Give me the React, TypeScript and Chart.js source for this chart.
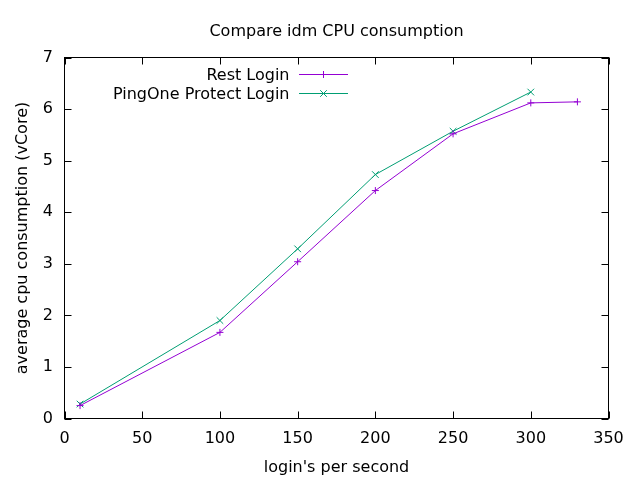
import React, { useEffect, useRef } from "react";
import { Chart, registerables } from "chart.js";

Chart.register(...registerables);

const restX = [10, 100, 150, 200, 250, 300, 330];
const restY = [0.25, 1.67, 3.04, 4.42, 5.52, 6.12, 6.14];
const pingX = [10, 100, 150, 200, 250, 300];
const pingY = [0.28, 1.9, 3.29, 4.73, 5.57, 6.33];

const seriesLabels = ["Rest Login", "PingOne Protect Login"];
const titleText = "Compare idm CPU consumption";
const xTitle = "login's per second";
const yTitle = "average cpu consumption (vCore)";

const FONT = "DejaVu Sans";
const PURPLE = "#9400d3";
const GREEN = "#009e73";

const decorPlugin = {
  id: "decor",
  afterDraw(chart: any) {
    const ctx = chart.ctx as CanvasRenderingContext2D;
    const a = chart.chartArea;
    const xs = chart.scales.x;
    const ys = chart.scales.y;
    ctx.save();
    // border
    ctx.strokeStyle = "#000";
    ctx.lineWidth = 1;
    ctx.strokeRect(a.left, a.top, a.right - a.left, a.bottom - a.top);
    const tl = 7;
    ctx.beginPath();
    xs.ticks.forEach((t: any) => {
      const px = Math.round(xs.getPixelForValue(t.value)) + 0.5;
      ctx.moveTo(px, a.bottom);
      ctx.lineTo(px, a.bottom - tl);
      ctx.moveTo(px, a.top);
      ctx.lineTo(px, a.top + tl);
    });
    ys.ticks.forEach((t: any) => {
      const py = Math.round(ys.getPixelForValue(t.value)) + 0.5;
      ctx.moveTo(a.left, py);
      ctx.lineTo(a.left + tl, py);
      ctx.moveTo(a.right, py);
      ctx.lineTo(a.right - tl, py);
    });
    ctx.stroke();

    // titles
    ctx.fillStyle = "#000";
    ctx.font = `16px "${FONT}"`;
    ctx.textAlign = "center";
    ctx.textBaseline = "alphabetic";
    const cx = (a.left + a.right) / 2;
    ctx.fillText(titleText, cx, 35.5);
    ctx.fillText(xTitle, cx, 471.5);
    ctx.save();
    ctx.translate(26.5, (a.top + a.bottom) / 2);
    ctx.rotate(-Math.PI / 2);
    ctx.fillText(yTitle, 0, 0);
    ctx.restore();

    // legend
    const rows = [
      { baseline: 80, lineY: 74.5 },
      { baseline: 98.5, lineY: 93.5 },
    ];
    chart.data.datasets.forEach((ds: any, i: number) => {
      const r = rows[i];
      ctx.textAlign = "right";
      ctx.fillStyle = "#000";
      ctx.fillText(ds.label, 289.5, r.baseline);
      ctx.strokeStyle = ds.borderColor;
      ctx.lineWidth = 1;
      ctx.beginPath();
      ctx.moveTo(299, r.lineY);
      ctx.lineTo(348, r.lineY);
      ctx.stroke();
      const mx = 323.5;
      const my = r.lineY;
      ctx.beginPath();
      if (ds.pointStyle === "cross") {
        const rr = ds.pointRadius;
        ctx.moveTo(mx - rr, my);
        ctx.lineTo(mx + rr, my);
        ctx.moveTo(mx, my - rr);
        ctx.lineTo(mx, my + rr);
      } else {
        const rr = ds.pointRadius * Math.SQRT1_2;
        ctx.moveTo(mx - rr, my - rr);
        ctx.lineTo(mx + rr, my + rr);
        ctx.moveTo(mx - rr, my + rr);
        ctx.lineTo(mx + rr, my - rr);
      }
      ctx.stroke();
    });
    ctx.restore();
  },
};

export default function App() {
  const ref = useRef<HTMLCanvasElement | null>(null);
  useEffect(() => {
    if (!ref.current) return;
    const chart = new Chart(ref.current, {
      type: "scatter",
      data: {
        datasets: [
          {
            label: seriesLabels[0],
            data: restX.map((x, i) => ({ x, y: restY[i] })),
            showLine: true,
            borderColor: PURPLE,
            backgroundColor: PURPLE,
            borderWidth: 1,
            pointStyle: "cross",
            pointRadius: 3.5,
            pointBorderWidth: 1,
            pointBorderColor: PURPLE,
          },
          {
            label: seriesLabels[1],
            data: pingX.map((x, i) => ({ x, y: pingY[i] })),
            showLine: true,
            borderColor: GREEN,
            backgroundColor: GREEN,
            borderWidth: 1,
            pointStyle: "crossRot",
            pointRadius: 4.7,
            pointBorderWidth: 1,
            pointBorderColor: GREEN,
          },
        ],
      },
      options: {
        responsive: false,
        animation: false,
        layout: { padding: { top: 57.5, right: 31.5, bottom: 0, left: 0 } },
        plugins: {
          legend: { display: false },
          title: { display: false },
          tooltip: { enabled: false },
        },
        scales: {
          x: {
            type: "linear",
            min: 0,
            max: 350,
            grid: { display: false, drawTicks: false },
            border: { display: false },
            ticks: {
              stepSize: 50,
              color: "#000",
              padding: 11,
              font: { family: FONT, size: 16 },
              maxRotation: 0,
            },
            afterFit: (s: any) => {
              s.height = 61.5;
            },
          },
          y: {
            type: "linear",
            min: 0,
            max: 7,
            grid: { display: false, drawTicks: false },
            border: { display: false },
            ticks: {
              stepSize: 1,
              color: "#000",
              padding: 11.5,
              font: { family: FONT, size: 16 },
            },
            afterFit: (s: any) => {
              s.width = 64.5;
            },
          },
        },
      },
      plugins: [decorPlugin],
    });
    return () => chart.destroy();
  }, []);
  return (
    <div style={{ position: "absolute", left: 0, top: 0, width: 640, height: 480, background: "#fff" }}>
      <canvas ref={ref} width={640} height={480} />
    </div>
  );
}
